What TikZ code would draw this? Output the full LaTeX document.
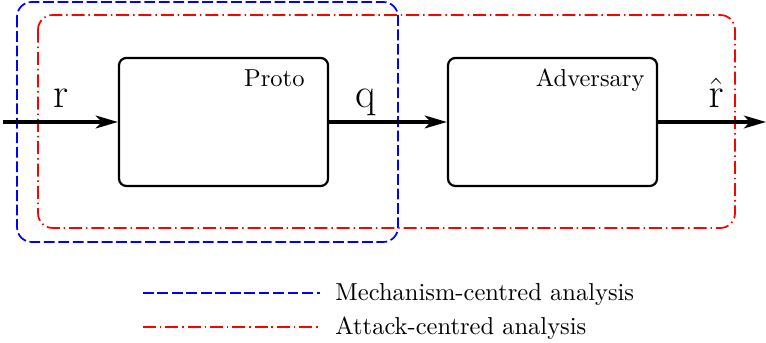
\documentclass[tikz,border=0pt]{standalone}
\usetikzlibrary{arrows.meta}
\begin{document}
\begin{tikzpicture}[x=0.408pt,y=-0.408pt,
  block/.style={draw=black,line width=0.9pt,rounded corners=3pt},
  flow/.style={line width=1.4pt,-{Stealth[length=9pt,width=5.2pt,inset=2.4pt]}},
  mechregion/.style={draw=blue,line width=0.7pt,rounded corners=6pt,dash pattern=on 4.4pt off 1.5pt},
  attackregion/.style={draw=red,line width=0.7pt,rounded corners=6pt,dash pattern=on 5.3pt off 1.6pt on 0.6pt off 1.6pt},
  lbl/.style={font=\LARGE,inner sep=0pt,anchor=base},
  legendtext/.style={anchor=base west,inner sep=0pt}]
\useasboundingbox (0,0) rectangle (766,343);
% regions of analysis
\draw[mechregion] (17,2) rectangle (398,242);
\draw[attackregion] (38,15) rectangle (735,228);
% blocks
\node[block,minimum width=209*0.408pt,minimum height=128*0.408pt,inner sep=0pt] (proto) at (223.5,122) {};
\node[block,minimum width=209*0.408pt,minimum height=128*0.408pt,inner sep=0pt] (adv) at (552.5,122) {};
\node[anchor=base east,inner sep=0pt] (protolbl) at (305,87) {Proto};
\node[anchor=base east,inner sep=0pt] (advlbl) at (645,87) {Adversary};
% signal flow
\coordinate (in) at (3,122);
\coordinate (out) at (766,122);
\draw[flow] (in) -- (proto.west);
\draw[flow] (proto.east) -- (adv.west);
\draw[flow] (adv.east) -- (out);
\node[lbl] (r) at (60.5,108) {r};
\node[lbl] (q) at (366,108) {q};
\node[lbl] (rhat) at (716,108) {$\hat{\mathrm{r}}$};
% legend
\coordinate (m1) at (143,293);
\coordinate (m2) at (320,293);
\coordinate (a1) at (143,327);
\coordinate (a2) at (320,327);
\draw[mechregion] (m1) -- (m2);
\draw[attackregion] (a1) -- (a2);
\node[legendtext] (mtext) at (335,301) {Mechanism-centred analysis};
\node[legendtext] (atext) at (335,334) {Attack-centred analysis};
\end{tikzpicture}
\end{document}
